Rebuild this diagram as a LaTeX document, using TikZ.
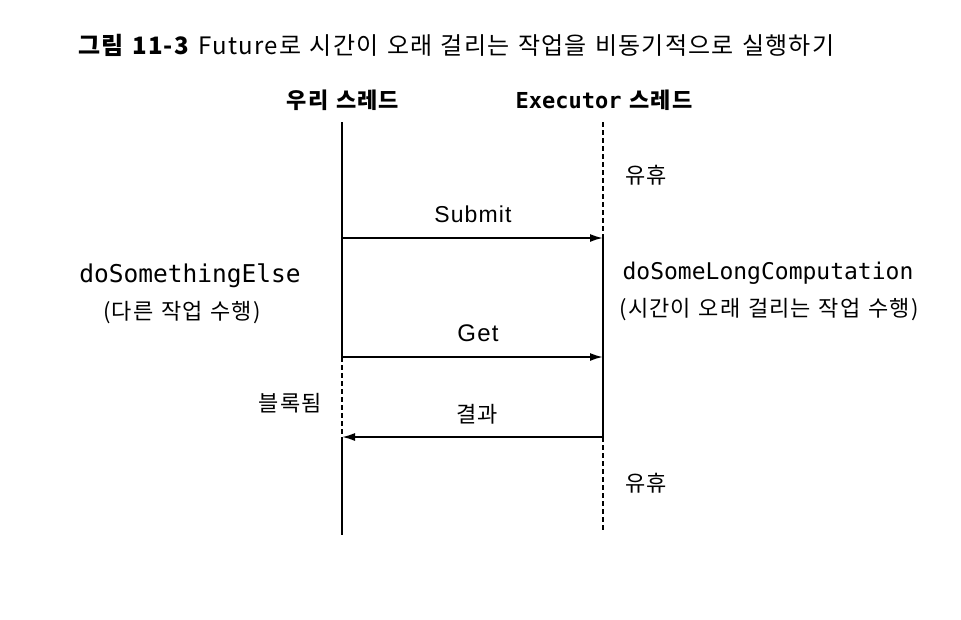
\documentclass[tikz,border=0pt]{standalone}
\usepackage{fontspec}
\setmainfont{Noto Sans CJK KR}
\newfontfamily\krfont[LetterSpace=5,WordSpace=1.8]{Noto Sans CJK KR}
\newfontfamily\capfont[LetterSpace=5,WordSpace=1.3]{Noto Sans CJK KR}
\newfontfamily\latfont[LetterSpace=5]{Liberation Sans}
\newfontfamily\monofont{DejaVu Sans Mono}
\usetikzlibrary{arrows.meta}
\begin{document}
\begin{tikzpicture}[x=1pt,y=-1pt,
  life/.style={line width=1.8pt},
  idle/.style={line width=1.8pt,dash pattern=on 5pt off 3pt},
  msg/.style={line width=1.8pt,-{Latex[length=13pt,width=8pt]}},
  lbl/.style={inner sep=0pt,font=\latfont\fontsize{23}{26}\selectfont},
  kr/.style={inner sep=0pt,font=\krfont\fontsize{22}{26}\selectfont},
  code/.style={inner sep=0pt,font=\monofont\fontsize{23}{26}\selectfont}]
\useasboundingbox (0,0) rectangle (961,619);
\fill[white] (0,0) rectangle (961,619);
% caption
\node[anchor=west,inner sep=0pt,font=\capfont\fontsize{24}{28}\selectfont] (cap) at (78,45)
  {\textbf{그림 11-3} Future로 시간이 오래 걸리는 작업을 비동기적으로 실행하기};
% headers
\node[kr,font=\krfont\bfseries\fontsize{22}{26}\selectfont] (h1) at (343,100) {우리 스레드};
\node[kr,font=\krfont\bfseries\fontsize{22}{26}\selectfont] (h2) at (604,100) {{\monofont\bfseries Executor} 스레드};
% lifeline coordinates
\coordinate (a0) at (342,122);
\coordinate (a1) at (342,238);
\coordinate (a2) at (342,357);
\coordinate (a3) at (342,437);
\coordinate (a4) at (342,535);
\coordinate (b0) at (603,122);
\coordinate (b1) at (603,238);
\coordinate (b2) at (603,357);
\coordinate (b3) at (603,437);
\coordinate (b4) at (603,530);
% our thread
\draw[life] (a0) -- (a2);
\draw[idle] (a2) -- (a3);
\draw[life] (a3) -- (a4);
% executor thread
\draw[idle] (b0) -- (b1);
\draw[life] (b1) -- (b3);
\draw[idle] (b3) -- (b4);
% messages
\draw[msg] (a1) -- (b1);
\draw[msg] (a2) -- (b2);
\draw[msg] (b3) -- (a3);
\node[lbl] (submit) at (473,214) {Submit};
\node[lbl,font=\latfont\fontsize{24}{26}\selectfont] (get) at (478,333) {Get};
\node[kr] (result) at (477,414) {결과};
% side labels
\node[kr] (idle1) at (646,175) {유휴};
\node[kr] (idle2) at (646,483) {유휴};
\node[code,font=\monofont\fontsize{24.5}{28}\selectfont] (dse) at (190,276) {doSomethingElse};
\node[kr] (dsek) at (182,313) {(다른 작업 수행)};
\node[code] (dslc) at (768,273) {doSomeLongComputation};
\node[kr] (dslck) at (769,310) {(시간이 오래 걸리는 작업 수행)};
\node[kr,anchor=east] (blk) at (322,403) {블록됨};
\end{tikzpicture}
\end{document}
